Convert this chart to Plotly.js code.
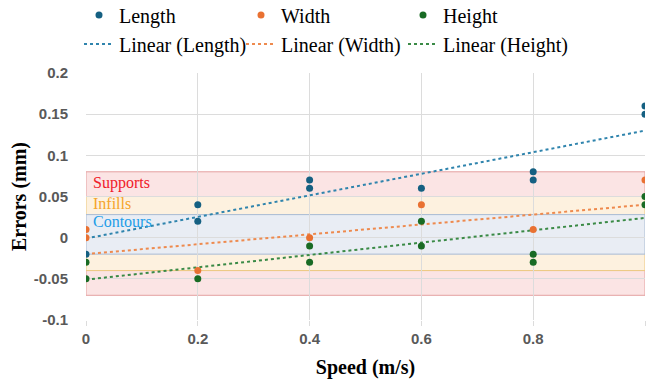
<!DOCTYPE html>
<html>
<head>
<meta charset="utf-8">
<script src="https://cdn.plot.ly/plotly-3.0.1.min.js"></script>
<style>html,body{margin:0;padding:0;background:#fff;}#chart{width:647px;height:381px;}</style>
</head>
<body>
<div id="chart"></div>
<script>
// ---- data ----
var lengthSpeed = [0, 0.2, 0.2, 0.4, 0.4, 0.6, 0.8, 0.8, 1, 1];
var lengthError = [-0.02, 0.04, 0.02, 0.07, 0.06, 0.06, 0.08, 0.07, 0.16, 0.15];
var widthSpeed  = [0, 0, 0.2, 0.4, 0.6, 0.8, 1];
var widthError  = [0.01, 0, -0.04, 0, 0.04, 0.01, 0.07];
var heightSpeed = [0, 0, 0.2, 0.4, 0.4, 0.6, 0.6, 0.8, 0.8, 1, 1];
var heightError = [-0.03, -0.05, -0.05, -0.01, -0.03, 0.02, -0.01, -0.02, -0.03, 0.05, 0.04];

var trendSpeed  = [0, 1];
var trendLength = [-0.001, 0.130];
var trendWidth  = [-0.02, 0.040];
var trendHeight = [-0.051, 0.024];

var bandNames = ['Supports', 'Infills', 'Contours'];
var bandLow   = [-0.07, -0.04, -0.02];
var bandHigh  = [0.08, 0.05, 0.028];
var bandLabelY = [0.066, 0.0415, 0.0196];

var xTicks = [0, 0.2, 0.4, 0.6, 0.8, 1];
var xTickText = ['0', '0.2', '0.4', '0.6', '0.8', '1'];
var yTicks = [-0.1, -0.05, 0, 0.05, 0.1, 0.15, 0.2];
var yTickText = ['-0.1', '-0.05', '0', '0.05', '0.1', '0.15', '0.2'];

// ---- styles ----
var cBlue = '#156082', cOrange = '#E97132', cGreen = '#196B24';
var bandFill = ['#fbe4e4', '#fdf1df', '#e9edf4'];
var bandLine = ['#e4a0a0', '#ecc77c', '#a8bad3'];
var bandText = ['#f0202a', '#f5a42a', '#1e9de8'];
var serif = 'Liberation Serif';

var traces = [
  {x: lengthSpeed, y: lengthError, name: 'Length', type: 'scatter', mode: 'markers',
   marker: {color: cBlue, size: 7}, legend: 'legend'},
  {x: widthSpeed, y: widthError, name: 'Width', type: 'scatter', mode: 'markers',
   marker: {color: cOrange, size: 7}, legend: 'legend'},
  {x: heightSpeed, y: heightError, name: 'Height', type: 'scatter', mode: 'markers',
   marker: {color: cGreen, size: 7}, legend: 'legend', legendwidth: 140},
  {x: trendSpeed, y: trendLength, name: 'Linear (Length)', type: 'scatter', mode: 'lines',
   line: {color: '#2f84ad', width: 2, dash: 'dot'}, legend: 'legend2'},
  {x: trendSpeed, y: trendWidth, name: 'Linear (Width)', type: 'scatter', mode: 'lines',
   line: {color: '#ee8a4e', width: 2, dash: 'dot'}, legend: 'legend2'},
  {x: trendSpeed, y: trendHeight, name: 'Linear (Height)', type: 'scatter', mode: 'lines',
   line: {color: '#3a8a46', width: 2, dash: 'dot'}, legend: 'legend2', legendwidth: 140}
];
// draw trend lines beneath markers
traces = traces.slice(3).concat(traces.slice(0, 3));

var shapes = bandNames.map(function (n, i) {
  return {type: 'rect', xref: 'x', yref: 'y', x0: 0, x1: 1, y0: bandLow[i], y1: bandHigh[i],
          fillcolor: bandFill[i], line: {color: bandLine[i], width: 1}, layer: 'below'};
});
var annotations = bandNames.map(function (n, i) {
  return {text: n, xref: 'x', yref: 'y', x: 0, y: bandLabelY[i], xanchor: 'left', yanchor: 'middle',
          xshift: 5, showarrow: false, font: {family: serif, size: 16, color: bandText[i]}};
});

var legendCommon = {
  orientation: 'h', xref: 'container', yref: 'container', xanchor: 'left', yanchor: 'middle',
  font: {family: serif, size: 20, color: '#000'}, bgcolor: 'rgba(0,0,0,0)',
  entrywidth: 117, entrywidthmode: 'pixels', traceorder: 'normal', itemclick: false
};
var legend1 = Object.assign({}, legendCommon, {x: 79 / 647, y: 1 - 15 / 381});
var legend2 = Object.assign({}, legendCommon, {x: 79 / 647, y: 1 - 44 / 381});

var layout = {
  width: 647, height: 381,
  margin: {l: 86, r: 2, t: 73, b: 61},
  paper_bgcolor: '#fff', plot_bgcolor: '#fff',
  showlegend: true,
  legend: legend1,
  legend2: legend2,
  xaxis: {
    range: [0, 1], tickvals: xTicks, ticktext: xTickText,
    showgrid: true, gridcolor: '#dcdcdc', gridwidth: 1, zeroline: false,
    showline: false, ticks: 'outside', ticklen: 5, tickcolor: '#dcdcdc',
    tickfont: {family: 'Liberation Sans', size: 15, color: '#595959', weight: 'bold'},
    title: {text: '<b>Speed (m/s)</b>', font: {family: serif, size: 20, color: '#000'}, standoff: 13},
    fixedrange: true
  },
  yaxis: {
    range: [-0.1, 0.2], tickvals: yTicks, ticktext: yTickText,
    showgrid: true, gridcolor: '#dcdcdc', gridwidth: 1, zeroline: false,
    showline: false, ticks: '', ticklabelstandoff: 17,
    tickfont: {family: 'Liberation Sans', size: 15, color: '#595959', weight: 'bold'},
    title: {text: '<b>Errors (mm)</b>', font: {family: serif, size: 20, color: '#000'}, standoff: 1},
    fixedrange: true
  },
  shapes: shapes,
  annotations: annotations
};

Plotly.newPlot('chart', traces, layout, {displayModeBar: false, staticPlot: true});
</script>
</body>
</html>
